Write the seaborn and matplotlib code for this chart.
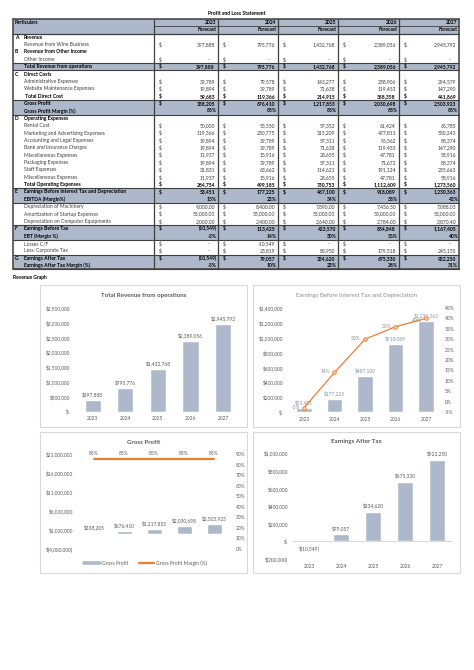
import numpy as np
import pandas as pd
import matplotlib
matplotlib.use("Agg")
import matplotlib.pyplot as plt
from matplotlib.patches import Rectangle
from matplotlib.lines import Line2D
import seaborn as sns

sns.set_theme(style="white")
plt.rcParams['font.family'] = ['Lato', 'DejaVu Sans']

# ---------------- data ----------------
years = ["2023", "2024", "2025", "2026", "2027"]
revenue_wine = [397888, 795776, 1432768, 2389056, 2945792]
other_income = [0, 0, 0, 0, 0]
total_revenue = [397888, 795776, 1432768, 2389056, 2945792]
admin_exp = [39789, 79578, 143277, 238906, 294579]
website_exp = [19894, 39789, 71638, 119453, 147290]
total_direct = [59683, 119366, 214915, 358358, 441869]
gross_profit = [338205, 676410, 1217853, 2030698, 2503923]
gp_margin = [0.85, 0.85, 0.85, 0.85, 0.85]
rental = [50000, 53550, 57352, 61424, 65785]
marketing = [119366, 230775, 315209, 477811, 530243]
accounting = [19894, 39789, 57311, 95562, 88374]
bank = [19894, 39789, 71638, 119453, 147290]
misc1 = [11937, 15916, 28655, 47781, 58916]
packaging = [19894, 39789, 57311, 71672, 88374]
staff = [31831, 63662, 114621, 191124, 235663]
misc2 = [11937, 15916, 28655, 47781, 58916]
total_opex = [284754, 499185, 730753, 1112609, 1273560]
ebitda = [53451, 177225, 487100, 918089, 1230363]
ebitda_margin = [0.13, 0.22, 0.34, 0.38, 0.42]
dep_machinery = [9000.00, 8400.00, 7890.00, 7456.50, 7088.03]
amortization = [53000.00, 53000.00, 53000.00, 53000.00, 53000.00]
dep_computer = [2000.00, 2400.00, 2640.00, 2784.00, 2870.40]
ebt = [-10549, 113425, 423570, 854848, 1167405]
ebt_margin = [-0.03, 0.14, 0.30, 0.36, 0.40]
losses_cf = [0, -10549, 0, 0, 0]
corp_tax = [0, 23819, 88950, 179518, 245155]
eat = [-10549, 79057, 334620, 675330, 922250]
eat_margin = [-0.03, 0.10, 0.23, 0.28, 0.31]

# ---------------- styling ----------------
W, H = 474, 670
SHADE = "#ADB9CA"
BAR = "#ADB9CA"
ORANGE = "#ED7D31"
GREY = "#595959"
LINEC = "#3F3F3F"
TFS = 3.6   # table font size
CFS = 3.5   # chart font size

fig = plt.figure(figsize=(W / 100, H / 100), dpi=100)
bg = fig.add_axes([0, 0, 1, 1])
bg.set_xlim(0, W)
bg.set_ylim(H, 0)
bg.axis('off')

# ---------------- table ----------------
TOP, RH = 18.8, 7.37
cols = [13, 154, 218, 278, 338, 399, 459]

rows = [
    ("A", "Revenue", None, "section"),
    ("", "Revenue from Wine Business", revenue_wine, "item"),
    ("B", "Revenue from Other Income", None, "section"),
    ("", "Other Income", other_income, "item"),
    ("", "Total Revenue from operations", total_revenue, "shade"),
    ("C", "Direct Costs", None, "section"),
    ("", "Administrative Expenses", admin_exp, "item"),
    ("", "Website Maintenance Expenses", website_exp, "item"),
    ("", " Total Direct Cost", total_direct, "total"),
    ("", "Gross Profit", gross_profit, "shade"),
    ("", "Gross Profit Margin (%)", gp_margin, "shade_pct"),
    ("D", "Operating Expenses", None, "section"),
    ("", "Rental Cost", rental, "item"),
    ("", "Marketing and Advertising Expenses", marketing, "item"),
    ("", "Accounting and Legal Expenses", accounting, "item"),
    ("", "Bank and Insurance Charges", bank, "item"),
    ("", "Miscellaneous Expenses", misc1, "item"),
    ("", "Packaging Expenses", packaging, "item"),
    ("", "Staff Expenses", staff, "item"),
    ("", "Miscellaneous Expenses", misc2, "item"),
    ("", "Total Operating Expenses", total_opex, "total"),
    ("E", "Earnings Before Interest Tax and Depreciation", ebitda, "shade"),
    ("", "EBITDA (Margin%)", ebitda_margin, "shade_pct"),
    ("", "Depreciation of Machinery", dep_machinery, "item_dec"),
    ("", "Amortization of Startup Expenses", amortization, "item_dec"),
    ("", "Depreciation on Computer Equipments", dep_computer, "item_dec"),
    ("F", "Earnings Before Tax", ebt, "shade"),
    ("", "EBT (Margin %)", ebt_margin, "shade_pct"),
    ("", "Losses C/F", losses_cf, "item_plain"),
    ("", "Less: Corporate Tax", corp_tax, "item"),
    ("G", "Earnings After Tax", eat, "shade"),
    ("", "Earnings After Tax Margin (%)", eat_margin, "shade_pct"),
]
nrows = len(rows) + 2
bottom = TOP + nrows * RH


def fmt(v, kind):
    if kind.endswith("pct"):
        return f"{round(v * 100):.0f}%"
    if v == 0:
        return "-"
    if kind == "item_dec":
        return f"{v:,.2f}"
    if kind == "item_plain":
        return f"{v:,.0f}"
    if v < 0:
        return f"({-v:,.0f})"
    return f"{v:,.0f}"


fig.text(237 / W, 1 - 13.5 / H, "Profit and Loss Statement", ha='center', va='center',
         fontsize=TFS, fontweight='bold', color='black')

# header shading
bg.add_patch(Rectangle((cols[0], TOP), cols[-1] - cols[0], 2 * RH, facecolor=SHADE, edgecolor='none'))
bg.text(cols[0] + 2, TOP + RH * 0.5, "Particulars", ha='left', va='center', fontsize=TFS,
        fontweight='bold', color='black')
for j, y in enumerate(years):
    r = cols[j + 2] - 1.5
    bg.text(r, TOP + RH * 0.5, y, ha='right', va='center', fontsize=TFS, fontweight='bold', color='black')
    bg.text(r, TOP + RH * 1.5, "Forecast", ha='right', va='center', fontsize=TFS, fontweight='bold', color='black')
bg.plot([cols[1], cols[-1]], [TOP + RH, TOP + RH], color=LINEC, lw=0.6)
bg.plot([cols[0], cols[-1]], [TOP + 2 * RH, TOP + 2 * RH], color=LINEC, lw=0.9)

for i, (letter, label, vals, kind) in enumerate(rows):
    ri = i + 2
    yt = TOP + ri * RH
    yc = yt + RH * 0.5
    bold = kind in ("section", "total", "shade", "shade_pct")
    color = 'black' if bold else '#3A3A3A'
    if kind.startswith("shade"):
        bg.add_patch(Rectangle((cols[0], yt), cols[-1] - cols[0], RH, facecolor=SHADE, edgecolor='none'))
    if letter:
        bg.text(15, yc, letter, ha='left', va='center', fontsize=TFS, fontweight='bold', color='black')
    bg.text(24, yc, label, ha='left', va='center', fontsize=TFS,
            fontweight='bold' if bold else 'normal', color=color)
    if vals is None:
        continue
    for j, v in enumerate(vals):
        left, right = cols[j + 1], cols[j + 2]
        if not kind.endswith("pct"):
            bg.text(left + 4.5, yc, "$", ha='left', va='center', fontsize=TFS,
                    fontweight='bold' if bold else 'normal', color=color)
        s = fmt(v, kind)
        if s == "-":
            xr = right - 8
        elif s.endswith(")") or s.endswith("%"):
            xr = right - 1.2
        else:
            xr = right - 3
        bg.text(xr, yc, s, ha='right', va='center', fontsize=TFS,
                fontweight='bold' if bold else 'normal', color=color)

# horizontal rules around shaded blocks
shade_blocks = [(6, 7), (11, 13), (23, 25), (28, 30), (32, 34)]
for a, b in shade_blocks:
    for r in (a, b):
        y = TOP + r * RH
        bg.plot([cols[0], cols[-1]], [y, y], color=LINEC, lw=0.8)
# vertical rules
for k, x in enumerate(cols):
    bg.plot([x, x], [TOP, bottom], color=LINEC, lw=1.1 if k in (0, len(cols) - 1) else 0.9)
bg.plot([cols[0], cols[-1]], [TOP, TOP], color=LINEC, lw=1.1)
bg.plot([cols[0], cols[-1]], [bottom, bottom], color=LINEC, lw=1.1)

fig.text(13 / W, 1 - 277.5 / H, "Revenue Graph", ha='left', va='center', fontsize=TFS,
         fontweight='bold', color='black')

# ---------------- chart panels ----------------
for (x0, y0, x1, y1) in [(40, 285, 247, 427), (253, 285, 460, 427),
                         (40, 432, 247, 573), (253, 432, 460, 573)]:
    bg.add_patch(Rectangle((x0, y0), x1 - x0, y1 - y0, facecolor='white',
                           edgecolor='#D9D9D9', lw=0.8))


def px_axes(x0, x1, y0, y1):
    a = fig.add_axes([x0 / W, (H - y1) / H, (x1 - x0) / W, (y1 - y0) / H])
    a.patch.set_alpha(0)
    return a


def money(v):
    if v == 0:
        return "$-"
    if v < 0:
        return f"$({-v:,.0f})"
    return f"${v:,.0f}"


def style_axis(a, lpad):
    for s in a.spines.values():
        s.set_visible(False)
    a.tick_params(axis='both', length=0, labelsize=CFS, colors=GREY)
    a.tick_params(axis='y', pad=lpad)
    a.set_xlabel("")
    a.set_ylabel("")
    a.grid(False)


def chart_title(x, y, t, bold=True, color=GREY, size=4.4):
    fig.text(x / W, 1 - y / H, t, ha='center', va='center', fontsize=size,
             fontweight='bold' if bold else 'normal', color=color)


# Chart 1: Total revenue
ax1 = px_axes(76.4, 239.3, 307.7, 411.7)
df1 = pd.DataFrame({"Year": years, "Value": total_revenue})
sns.barplot(data=df1, x="Year", y="Value", color=BAR, saturation=1, width=0.5, ax=ax1)
ax1.set_xlim(-0.5, 4.5)
ax1.set_ylim(0, 3.5e6)
yt1 = np.arange(0, 3.5e6 + 1, 5e5)
ax1.set_yticks(yt1)
ax1.set_yticklabels([money(v) for v in yt1])
style_axis(ax1, 4.6)
ax1.tick_params(axis='x', pad=3.3)
ax1.axhline(0, color='#D9D9D9', lw=0.7)
ax1.bar_label(ax1.containers[0], labels=[money(v) for v in total_revenue], padding=2,
              fontsize=CFS, color=GREY)
chart_title(143.5, 295, "Total Revenue from operations")

# Chart 2: EBITDA
ax2 = px_axes(288.75, 441.25, 308, 412)
df2 = pd.DataFrame({"Year": years, "Value": ebitda})
sns.barplot(data=df2, x="Year", y="Value", color=BAR, saturation=1, width=0.5, ax=ax2)
ax2.set_ylim(0, 1.4e6)
yt2 = np.arange(0, 1.4e6 + 1, 2e5)
ax2.set_yticks(yt2)
ax2.set_yticklabels([money(v) for v in yt2])
style_axis(ax2, 4.1)
ax2.tick_params(axis='x', pad=3.3)
ax2.axhline(0, color='#D9D9D9', lw=0.7)
ax2.bar_label(ax2.containers[0], labels=[money(v) for v in ebitda], padding=2,
              fontsize=CFS, color='#8497B0')
ax2r = ax2.twinx()
ax2r.patch.set_alpha(0)
sns.lineplot(x=np.arange(5), y=ebt_margin, ax=ax2r, color=ORANGE, lw=0.9, marker='o',
             markersize=2.6, markerfacecolor='#F8CBAD', markeredgecolor=ORANGE, markeredgewidth=0.6)
ax2r.set_ylim(-0.05, 0.45)
yt2r = np.arange(-0.05, 0.451, 0.05)
ax2r.set_yticks(yt2r)
ax2r.set_yticklabels([f"{round(v * 100):.0f}%" for v in yt2r])
style_axis(ax2r, 2.7)
ax2.set_xlim(-0.5, 4.5)
line_offsets = [(-3, 0.5), (-3, 0.5), (-3, 0.5), (-3, 0.5), (-3.5, -1.8)]
for k, m in enumerate(ebt_margin):
    ax2r.annotate(f"{round(m * 100):.0f}%", (k, m), xytext=line_offsets[k], textcoords='offset points',
                  ha='right', va='center', fontsize=CFS, color='#8C8C8C')
chart_title(356.5, 295, "Earnings Before Interest Tax and Depreciation", bold=False,
            color='#8C8C8C', size=4.3)

# Chart 3: Gross profit
ax3 = px_axes(79, 229, 454, 549)
df3 = pd.DataFrame({"Year": years, "Value": gross_profit})
sns.barplot(data=df3, x="Year", y="Value", color=BAR, saturation=1, width=0.5, ax=ax3)
ax3.set_ylim(-4e6, 21e6)
yt3 = np.arange(-4e6, 21e6 + 1, 5e6)
ax3.set_yticks(yt3)
ax3.set_yticklabels([money(v) for v in yt3])
style_axis(ax3, 4.3)
ax3.set_xticklabels([])
ax3.bar_label(ax3.containers[0], labels=[money(v) for v in gross_profit], padding=2,
              fontsize=CFS, color=GREY)
ax3r = ax3.twinx()
ax3r.patch.set_alpha(0)
sns.lineplot(x=np.arange(5), y=gp_margin, ax=ax3r, color=ORANGE, lw=1.6)
ax3r.set_ylim(0, 0.9)
yt3r = np.arange(0, 0.91, 0.1)
ax3r.set_yticks(yt3r)
ax3r.set_yticklabels([f"{round(v * 100):.0f}%" for v in yt3r])
style_axis(ax3r, 5)
ax3.set_xlim(-0.5, 4.5)
for k, m in enumerate(gp_margin):
    ax3r.annotate(f"{round(m * 100):.0f}%", (k, m), xytext=(0, 4.5), textcoords='offset points',
                  ha='center', va='center', fontsize=CFS, color=GREY)
handles = [Line2D([0], [0], color=BAR, lw=2.6), Line2D([0], [0], color=ORANGE, lw=1.6)]
ax3.legend(handles, ["Gross Profit", "Gross Profit Margin (%)"], loc='center',
           bbox_to_anchor=(145.5 / W, 1 - 563 / H), bbox_transform=fig.transFigure, ncol=2,
           frameon=False, fontsize=CFS, handlelength=3.2, columnspacing=2.2, handletextpad=0.4,
           labelcolor=GREY)
chart_title(143.5, 442, "Gross Profit")

# Chart 4: Earnings after tax
ax4 = px_axes(293, 453, 453, 559)
df4 = pd.DataFrame({"Year": years, "Value": eat})
sns.barplot(data=df4, x="Year", y="Value", color=BAR, saturation=1, width=0.5, ax=ax4)
ax4.set_xlim(-0.5, 4.5)
ax4.set_ylim(-2e5, 1e6)
yt4 = np.arange(-2e5, 1e6 + 1, 2e5)
ax4.set_yticks(yt4)
ax4.set_yticklabels([money(v) for v in yt4])
style_axis(ax4, 3.6)
ax4.tick_params(axis='x', pad=3.3)
ax4.axhline(0, color='#D9D9D9', lw=0.7)
ax4.bar_label(ax4.containers[0], labels=[money(v) for v in eat], padding=2.5,
              fontsize=CFS, color=GREY)
chart_title(356.5, 442, "Earnings After Tax")

fig.savefig("out.png", dpi=100)
